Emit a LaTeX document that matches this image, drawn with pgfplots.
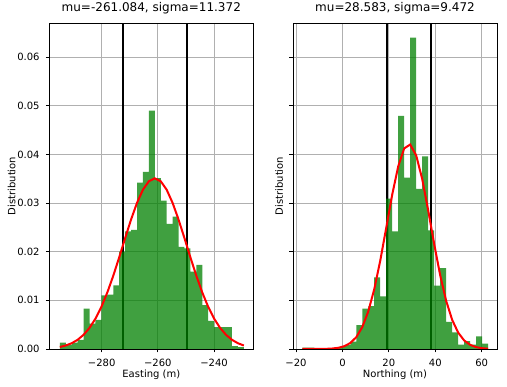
\documentclass[border=0pt]{standalone}
\usepackage{fontspec}
\setmainfont{DejaVu Sans}
\usepackage{pgfplots}
\pgfplotsset{compat=1.18}
\definecolor{mplgreen}{RGB}{0,128,0}
\definecolor{gridgray}{RGB}{176,176,176}
\pgfplotsset{
  myax/.style={
    scale only axis, height=326bp, ymin=0, ymax=0.067,
    ytick={0,0.01,0.02,0.03,0.04,0.05,0.06},
    scaled y ticks=false, scaled x ticks=false,
    grid=major, grid style={gridgray, line width=0.8bp},
    axis line style={line width=0.8bp},
    tick style={black, line width=0.8bp}, tick align=outside,
    major tick length=3.5bp, tick pos=left,
    every tick label/.append style={font=\fontsize{10bp}{12bp}\selectfont},
    label style={font=\fontsize{10bp}{12bp}\selectfont},
    title style={font=\fontsize{12bp}{14bp}\selectfont, at={(axis description cs:0.5,1)}, anchor=base, yshift=6bp, inner sep=0pt},
    xlabel style={at={(axis description cs:0.5,-0.0868)}, anchor=base, inner sep=0pt},
    xticklabel style={anchor=base, inner sep=0pt, yshift=-13.5bp},
    yticklabel style={anchor=east, inner sep=0pt, xshift=-6bp},
  }
}
\begin{document}
\begin{tikzpicture}
\path[use as bounding box] (0,0) rectangle (507bp,387bp);
% ---------------- Easting ----------------
\begin{axis}[myax, at={(49.3bp,38bp)}, anchor=south west, width=204bp,
  xmin=-298.66, xmax=-226.0,
  xtick={-280,-260,-240}, xticklabels={−280,−260,−240},
  yticklabels={0.00,0.01,0.02,0.03,0.04,0.05,0.06},
  title={mu=-261.084, sigma=11.372},
  xlabel={Easting (m)}, ylabel={Distribution},
  ylabel style={at={(axis description cs:-0.1667,0.5)}, anchor=base, inner sep=0pt, rotate=0},
]
\addplot[black, line width=1.8bp] coordinates {(-272.456,0) (-272.456,0.067)};
\addplot[black, line width=1.8bp] coordinates {(-249.712,0) (-249.712,0.067)};
\addplot[const plot, fill=mplgreen, fill opacity=0.75, draw=none] coordinates {
(-294.900,0.0013) (-292.786,0.0008) (-290.672,0.0013) (-288.558,0.0019)
(-286.444,0.0083) (-284.330,0.0052) (-282.216,0.0060) (-280.102,0.0110)
(-277.988,0.0112) (-275.874,0.0131) (-273.760,0.0200) (-271.646,0.0242)
(-269.532,0.0245) (-267.418,0.0342) (-265.304,0.0364) (-263.190,0.0490)
(-261.076,0.0351) (-258.962,0.0305) (-256.848,0.0257) (-254.734,0.0272)
(-252.620,0.0210) (-250.506,0.0207) (-248.392,0.0159) (-246.278,0.0173)
(-244.164,0.0090) (-242.050,0.0058) (-239.936,0.0045) (-237.822,0.0045)
(-235.708,0.0045) (-233.594,0.0006) (-231.480,0.0004) (-229.366,0.0004)
} \closedcycle;
\addplot[red, line width=2bp] coordinates {
(-294.900,0.000422) (-292.786,0.000721) (-290.672,0.001189) (-288.558,0.001895)
(-286.444,0.002919) (-284.330,0.004342) (-282.216,0.006240) (-280.102,0.008664)
(-277.988,0.011621) (-275.874,0.015056) (-273.760,0.018847) (-271.646,0.022790)
(-269.532,0.026620) (-267.418,0.030040) (-265.304,0.032746) (-263.190,0.034484)
(-261.076,0.035080) (-258.962,0.034474) (-256.848,0.032729) (-254.734,0.030016)
(-252.620,0.026592) (-250.506,0.022760) (-248.392,0.018819) (-246.278,0.015029)
(-244.164,0.011597) (-242.050,0.008643) (-239.936,0.006224) (-237.822,0.004329)
(-235.708,0.002910) (-233.594,0.001888) (-231.480,0.001185) (-229.366,0.000718)
};
\draw[line width=0.8bp] (rel axis cs:0,0) rectangle (rel axis cs:1,1);
\end{axis}
% ---------------- Northing ----------------
\begin{axis}[myax, at={(292.9bp,38bp)}, anchor=south west, width=204.3bp,
  xmin=-21.35, xmax=66.7,
  xtick={-20,0,20,40,60}, xticklabels={−20,0,20,40,60},
  yticklabels={},
  title={mu=28.583, sigma=9.472},
  xlabel={Northing (m)}, ylabel={Distribution},
  ylabel style={at={(axis description cs:-0.0485,0.5)}, anchor=base, inner sep=0pt, rotate=0},
]
\addplot[black, line width=1.8bp] coordinates {(19.111,0) (19.111,0.067)};
\addplot[black, line width=1.8bp] coordinates {(38.055,0) (38.055,0.067)};
\addplot[const plot, fill=mplgreen, fill opacity=0.75, draw=none] coordinates {
(-17.300,0.0003) (-14.716,0.0003) (-12.132,0) (-9.548,0)
(-6.964,0) (-4.380,0) (-1.796,0.0004) (0.788,0.0008)
(3.372,0.0015) (5.956,0.0049) (8.540,0.0083) (11.124,0.0088)
(13.708,0.0147) (16.292,0.0108) (18.876,0.0309) (21.460,0.0242)
(24.044,0.0479) (26.628,0.0352) (29.212,0.0640) (31.796,0.0329)
(34.380,0.0396) (36.964,0.0244) (39.548,0.0130) (42.132,0.0166)
(44.716,0.0056) (47.300,0.0034) (49.884,0.0009) (52.468,0.0016)
(55.052,0.0009) (57.636,0.0026) (60.220,0.0011) (62.804,0.0011)
} \closedcycle;
\addplot[red, line width=2bp] coordinates {
(-17.300,0.0000003) (-14.716,0.0000012) (-12.132,0.0000041) (-9.548,0.0000128)
(-6.964,0.0000369) (-4.380,0.0000988) (-1.796,0.0002459) (0.788,0.0005685)
(3.372,0.0012197) (5.956,0.0024287) (8.540,0.0044898) (11.124,0.0077033)
(13.708,0.012273) (16.292,0.018148) (18.876,0.024912) (21.460,0.031743)
(24.044,0.037549) (26.628,0.041230) (29.212,0.042024) (31.796,0.039762)
(34.380,0.034924) (36.964,0.028474) (39.548,0.021551) (42.132,0.015141)
(44.716,0.009875) (47.300,0.005979) (49.884,0.003361) (52.468,0.001753)
(55.052,0.000849) (57.636,0.000382) (60.220,0.000159) (62.804,0.0000617)
};
\draw[line width=0.8bp] (rel axis cs:0,0) rectangle (rel axis cs:1,1);
\end{axis}
\end{tikzpicture}
\end{document}
